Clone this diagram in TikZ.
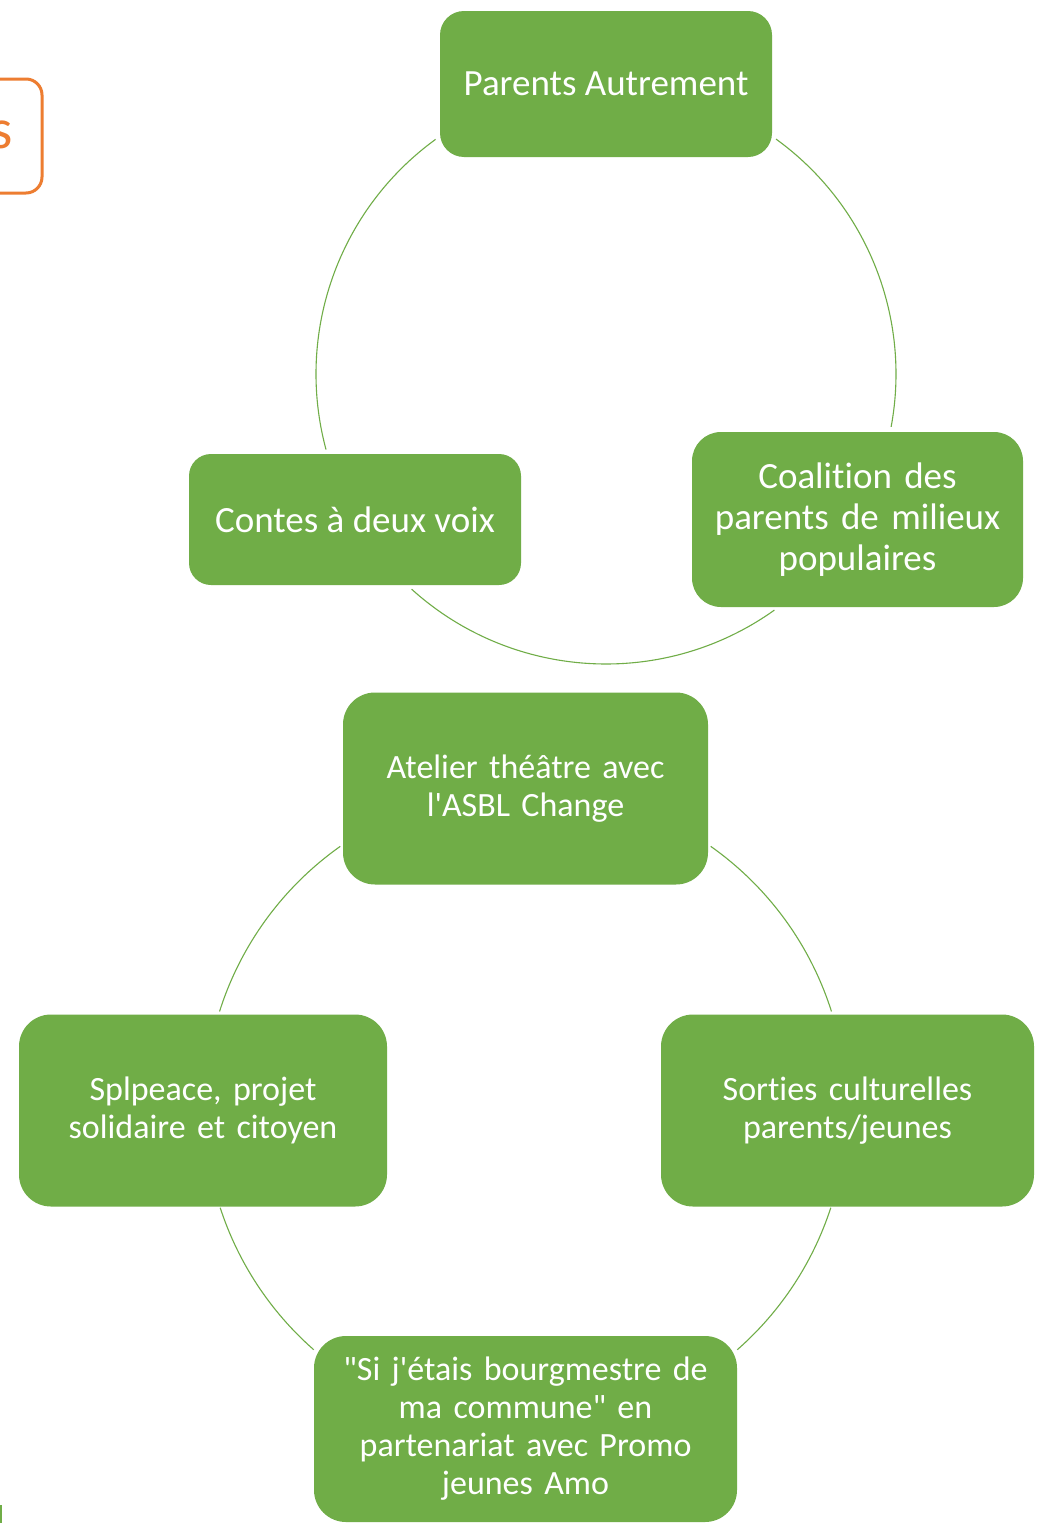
\documentclass[tikz,border=0pt]{standalone}
\usepackage{fontspec}
\setmainfont{Carlito}[Ligatures={TeXOff,NoCommon}]
\usetikzlibrary{calc}
\definecolor{grn}{HTML}{70AD47}
\definecolor{org}{HTML}{ED7D31}
\tikzset{
  box/.style={fill=grn, draw=none, text=white, align=center, inner sep=0pt},
  topfont/.style={font=\fontsize{37}{41}\selectfont},
  botfont/.style={font=\fontsize{34}{38}\selectfont},
  link/.style={draw=grn, line width=1.1pt},
}
\begin{document}
\begin{tikzpicture}[x=1pt,y=1pt]
\useasboundingbox (0,0) rectangle (1044,-1523);
\clip (0,0) rectangle (1044,-1523);
\fill[white] (0,0) rectangle (1044,-1523);

% orange partial box
\draw[org, line width=3pt, rounded corners=16pt] (-300,-79) rectangle (42,-193);
\node[anchor=east, text=org, font=\fontsize{57}{60}\selectfont, inner sep=0pt] (orgtext) at (12.5,-134.5) {s};

% top cycle
\coordinate (c1) at (606,-374);
\node[box, topfont, minimum width=332pt, minimum height=146pt, rounded corners=24pt] (pa) at (606,-84) {Parents Autrement};
\node[box, topfont, minimum width=332pt, minimum height=131pt, rounded corners=22pt] (cv) at (355,-519.5) {Contes à deux voix};
\node[box, topfont, minimum width=331pt, minimum height=175pt, rounded corners=29pt, text width=320pt] (co) at (857.5,-519.5) {Coalition des\\parents de milieux\\populaires};

\draw[link] ($(c1)+(126:290)$) arc[start angle=126, end angle=195.1, radius=290pt];
\draw[link] ($(c1)+(54.1:290)$) arc[start angle=54.1, end angle=-10.5, radius=290pt];
\draw[link] ($(c1)+(227.9:290)$) arc[start angle=227.9, end angle=305.5, radius=290pt];

% bottom cycle
\coordinate (c2) at (525.5,-1108.5);
\node[box, botfont, minimum width=365pt, minimum height=192pt, rounded corners=32pt, text width=350pt] (at) at (525.5,-788.5) {Atelier théâtre avec\\l'ASBL Change};
\node[box, botfont, minimum width=368pt, minimum height=192pt, rounded corners=32pt, text width=350pt] (sp) at (203,-1110.5) {Splpeace, projet\\solidaire et citoyen};
\node[box, botfont, minimum width=373pt, minimum height=192pt, rounded corners=32pt, text width=350pt] (so) at (847.5,-1110.5) {Sorties culturelles\\parents/jeunes};
\node[box, botfont, minimum width=423pt, minimum height=186pt, rounded corners=32pt, text width=410pt] (si) at (525.5,-1429) {"Si j'étais bourgmestre de\\ma commune" en\\partenariat avec Promo\\jeunes Amo};

\draw[link] ($(c2)+(125.25:321)$) arc[start angle=125.25, end angle=162.4, radius=321pt];
\draw[link] ($(c2)+(54.75:321)$) arc[start angle=54.75, end angle=17.6, radius=321pt];
\draw[link] ($(c2)+(198:321)$) arc[start angle=198, end angle=228.7, radius=321pt];
\draw[link] ($(c2)+(342:321)$) arc[start angle=342, end angle=311.3, radius=321pt];

% stray edge at bottom left
\coordinate (s1) at (1,-1505);
\coordinate (s2) at (1,-1523);
\draw[link] (s1) -- (s2);
\end{tikzpicture}
\end{document}
